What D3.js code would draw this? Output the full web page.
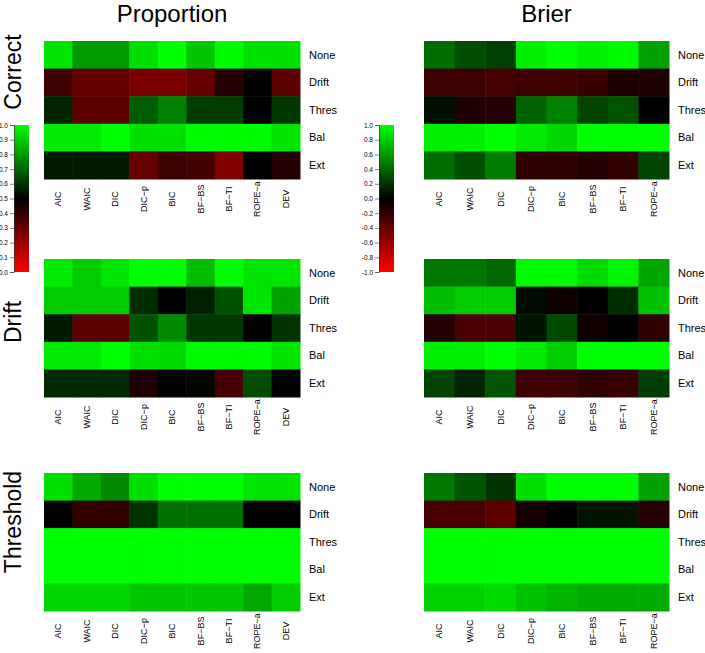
<!DOCTYPE html>
<html><head><meta charset="utf-8">
<script src="https://cdn.jsdelivr.net/npm/d3@7"></script>
<style>body{margin:0;background:#fff}svg{display:block}text{font-family:"Liberation Sans",Arial,sans-serif;fill:#000}</style>
</head><body><svg id="c" width="705" height="653"></svg>
<script>
const rowsLab = ["None","Drift","Thres","Bal","Ext"];
const propCols = ["AIC","WAIC","DIC","DIC\u2212p","BIC","BF\u2212BS","BF\u2212TI","ROPE\u2212a","DEV"];
const brierCols = ["AIC","WAIC","DIC","DIC\u2212p","BIC","BF\u2212BS","BF\u2212TI","ROPE\u2212a"];
const groups = ["Correct","Drift","Threshold"];
const propTicks = [0,0.1,0.2,0.3,0.4,0.5,0.6,0.7,0.8,0.9,1.0];
const brierTicks = [-1,-0.8,-0.6,-0.4,-0.2,0,0.2,0.4,0.6,0.8,1.0];

// Proportion values (rows None, Drift, Thres, Bal, Ext)
const propCorrect = [
 [0.95,0.80,0.80,0.94,1.00,0.89,0.99,0.94,0.94],
 [0.38,0.30,0.30,0.26,0.26,0.30,0.43,0.50,0.32],
 [0.57,0.32,0.32,0.68,0.75,0.62,0.62,0.50,0.61],
 [0.96,0.96,1.00,0.94,0.94,0.99,0.99,0.99,0.95],
 [0.55,0.55,0.55,0.30,0.38,0.37,0.25,0.50,0.43]];
const propDrift = [
 [0.96,0.90,0.95,1.00,1.00,0.87,1.00,0.95,0.95],
 [0.90,0.90,0.90,0.59,0.50,0.56,0.66,0.95,0.82],
 [0.55,0.32,0.32,0.66,0.77,0.61,0.61,0.50,0.60],
 [0.96,0.96,1.00,0.94,0.93,0.99,0.99,0.99,0.95],
 [0.58,0.58,0.58,0.44,0.50,0.51,0.36,0.65,0.50]];
const propThreshold = [
 [0.94,0.83,0.77,0.94,1.00,1.00,1.00,0.95,0.95],
 [0.50,0.40,0.40,0.60,0.72,0.72,0.72,0.50,0.50],
 [1,1,1,1,1,1,1,1,1],
 [1,1,1,1,1,1,1,1,1],
 [0.92,0.92,0.92,0.89,0.89,0.89,0.89,0.83,0.90]];
// Brier values
const brierCorrect = [
 [0.43,0.31,0.25,0.94,1.00,0.94,0.98,0.63],
 [-0.24,-0.24,-0.27,-0.24,-0.24,-0.22,-0.12,-0.12],
 [0.06,-0.12,-0.14,0.39,0.51,0.27,0.33,0.00],
 [0.94,0.94,1.00,0.92,0.84,1.00,1.00,1.00],
 [0.43,0.31,0.49,-0.18,-0.18,-0.14,-0.20,0.27]];
const brierDrift = [
 [0.47,0.47,0.41,0.98,0.98,0.86,0.96,0.65],
 [0.75,0.80,0.80,0.04,-0.06,0.00,0.18,0.76],
 [-0.14,-0.29,-0.29,0.08,0.29,-0.06,0.00,-0.18],
 [0.94,0.94,1.00,0.92,0.80,1.00,1.00,1.00],
 [0.27,0.14,0.33,-0.24,-0.24,-0.18,-0.22,0.24]];
const brierThreshold = [
 [0.47,0.33,0.20,0.88,1.00,1.00,1.00,0.63],
 [-0.29,-0.29,-0.37,-0.08,0.00,0.08,0.08,-0.14],
 [1,1,1,1,1,1,1,1],
 [1,1,1,1,1,1,1,1],
 [0.82,0.82,0.86,0.76,0.71,0.67,0.67,0.67]];

const propData = [propCorrect, propDrift, propThreshold];
const brierData = [brierCorrect, brierDrift, brierThreshold];

const svg = d3.select("#c");
const propColor = d3.scaleLinear().domain([0,0.5,1]).range(["#ff0000","#000000","#00ff00"]).clamp(true);
const brierColor = d3.scaleLinear().domain([-1,0,1]).range(["#ff0000","#000000","#00ff00"]).clamp(true);

const panelY = [[41,179],[259,397],[473,611]];
const cols = [
  {x0:44, x1:300, cats:propCols, data:propData, color:propColor, title:"Proportion"},
  {x0:424, x1:669, cats:brierCols, data:brierData, color:brierColor, title:"Brier"}];

cols.forEach(c => {
  svg.append("text").attr("x",(c.x0+c.x1)/2).attr("y",22).attr("text-anchor","middle")
    .style("font-size","24px").text(c.title);
  panelY.forEach((py,gi) => {
    const x = d3.scaleBand().domain(c.cats).range([c.x0,c.x1]);
    const y = d3.scaleBand().domain(rowsLab).range([py[0],py[1]]);
    const g = svg.append("g");
    const cells = [];
    c.data[gi].forEach((row,ri) => row.forEach((v,ci) => cells.push({r:rowsLab[ri],c:c.cats[ci],v})));
    g.selectAll("rect").data(cells).join("rect")
      .attr("x",d=>x(d.c)).attr("y",d=>y(d.r))
      .attr("width",x.bandwidth()+0.5).attr("height",y.bandwidth()+0.5)
      .attr("fill",d=>c.color(d.v));
    g.selectAll("text.row").data(rowsLab).join("text").attr("class","row")
      .attr("x",c.x1+9).attr("y",d=>y(d)+y.bandwidth()/2).attr("dy","0.35em")
      .style("font-size","11px").text(d=>d);
    const cy = py[1]+20;
    g.selectAll("text.col").data(c.cats).join("text").attr("class","col")
      .attr("transform",d=>`translate(${x(d)+x.bandwidth()/2},${cy}) rotate(-90)`)
      .attr("text-anchor","middle").attr("dy","0.35em")
      .style("font-size","9px").text(d=>d);
  });
});

const groupCenters = [72,322,522];
groups.forEach((gname,i) => {
  svg.append("text").attr("transform",`translate(21,${groupCenters[i]}) rotate(-90)`)
    .attr("text-anchor","middle").style("font-size","23px").text(gname);
});

const defs = svg.append("defs");
function legend(id, x0, w, yTop, yBot, domain, ticks, fmt, colorScale){
  const grad = defs.append("linearGradient").attr("id",id).attr("x1",0).attr("y1",1).attr("x2",0).attr("y2",0);
  d3.range(0,1.0001,0.05).forEach(t => {
    const v = domain[0] + t*(domain[1]-domain[0]);
    grad.append("stop").attr("offset",t).attr("stop-color",colorScale(v));
  });
  svg.append("rect").attr("x",x0).attr("y",yTop).attr("width",w).attr("height",yBot-yTop).attr("fill",`url(#${id})`);
  const s = d3.scaleLinear().domain(domain).range([yBot,yTop]);
  const ax = svg.append("g").attr("transform",`translate(${x0},0)`)
    .call(d3.axisLeft(s).tickValues(ticks).tickFormat(fmt).tickSize(4).tickPadding(2));
  ax.select(".domain").attr("stroke","#333").attr("stroke-width",0.6);
  ax.selectAll(".tick line").attr("stroke","#333").attr("stroke-width",0.6);
  ax.selectAll("text").style("font-size","6.5px").style("font-family","'Liberation Sans',Arial,sans-serif");
}
legend("gp",14,15,125,272,[0,1],propTicks,d3.format(".1f"),propColor);
legend("gb",379,15,125,272,[-1,1],brierTicks,d=>d3.format(".1f")(d).replace("\u2212","-"),brierColor);
</script></body></html>
